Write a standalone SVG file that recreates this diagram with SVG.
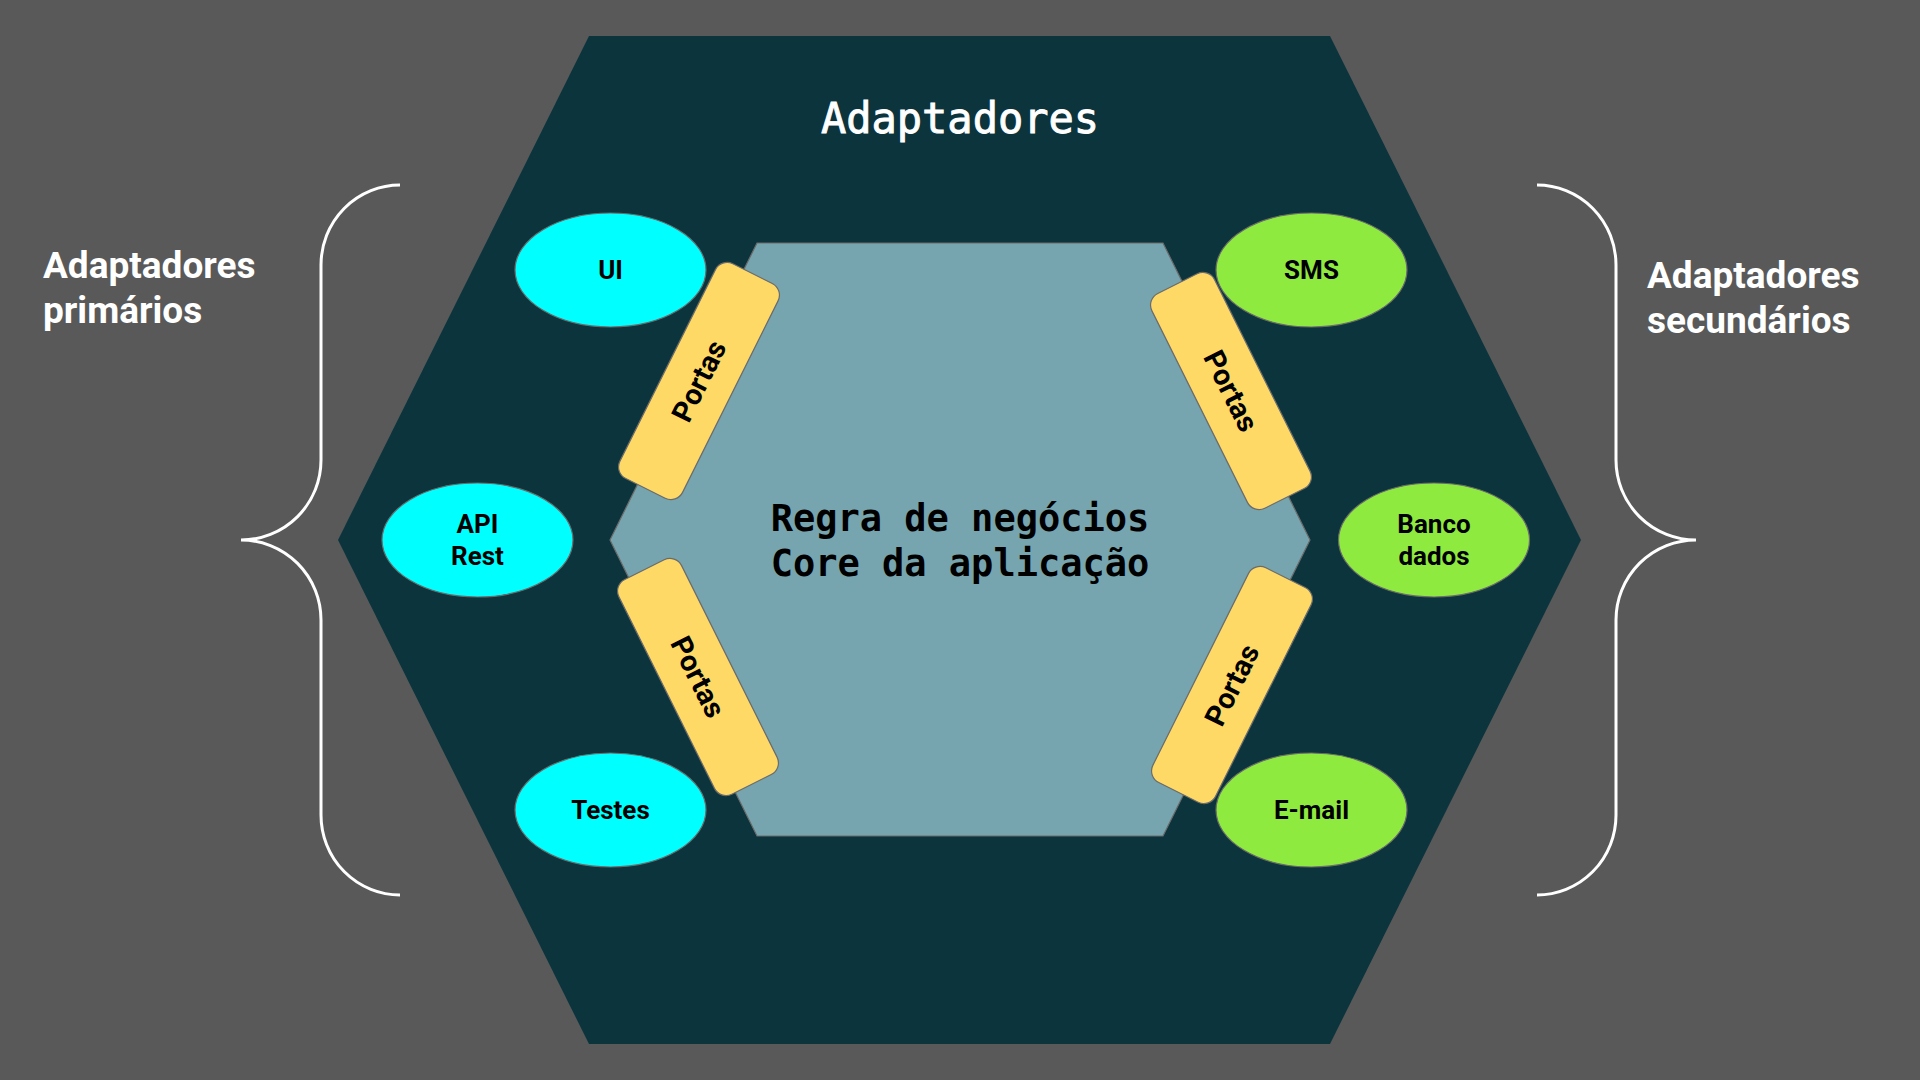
<svg xmlns="http://www.w3.org/2000/svg" width="1920" height="1080" viewBox="0 0 1920 1080">
<style>
.ell{stroke:#6b6b6b;stroke-width:1.2}
.cyan{fill:#00ffff}
.green{fill:#8fea3f}
.port{fill:#ffd966;stroke:#6b6b6b;stroke-width:1.2}
.lbl{font-family:Roboto,"Liberation Sans",sans-serif;font-weight:700;font-size:26px;fill:#000;text-anchor:middle}
.plbl{font-family:Roboto,"Liberation Sans",sans-serif;font-weight:700;font-size:29px;fill:#000;text-anchor:middle}
.side{font-family:Roboto,"Liberation Sans",sans-serif;font-weight:700;font-size:37px;fill:#fff}
.mono{font-family:"DejaVu Sans Mono","Liberation Mono",monospace;text-anchor:middle}
.brace{fill:none;stroke:#fff;stroke-width:3}
</style>
<rect width="1920" height="1080" fill="#595959"/>
<g id="adaptadores">
<polygon points="589,36 1330,36 1581,540 1330,1044 589,1044 338,540" fill="#0c343d"/>
<text class="mono" x="960" y="133" font-size="42" fill="#fff" stroke="#fff" stroke-width="0.9">Adaptadores</text>
</g>
<g id="core">
<polygon points="757,243 1163,243 1310,540 1163,836 757,836 610,540" fill="#76a5af" stroke="#6b6b6b" stroke-width="1.2"/>
<text class="mono" x="960" y="531" font-size="37" font-weight="700" fill="#000">Regra de negócios</text>
<text class="mono" x="960" y="576" font-size="37" font-weight="700" fill="#000">Core da aplicação</text>
</g>
<g id="portas-tl" transform="translate(699,381) rotate(26.5)">
<rect class="port" x="-35" y="-120" width="70" height="240" rx="13"/>
<text class="plbl" transform="rotate(-90)" x="0" y="10">Portas</text>
</g>
<g id="portas-tr" transform="translate(1231,391) rotate(-26.5)">
<rect class="port" x="-35" y="-120" width="70" height="240" rx="13"/>
<text class="plbl" transform="rotate(90)" x="0" y="10">Portas</text>
</g>
<g id="portas-bl" transform="translate(698,677) rotate(-26.5)">
<rect class="port" x="-35" y="-120" width="70" height="240" rx="13"/>
<text class="plbl" transform="rotate(90)" x="0" y="10">Portas</text>
</g>
<g id="portas-br" transform="translate(1232,685) rotate(26.5)">
<rect class="port" x="-35" y="-120" width="70" height="240" rx="13"/>
<text class="plbl" transform="rotate(-90)" x="0" y="10">Portas</text>
</g>
<g id="ui">
<ellipse class="ell cyan" cx="610.5" cy="270" rx="95.5" ry="57"/>
<text class="lbl" x="610.5" y="279">UI</text>
</g>
<g id="api-rest">
<ellipse class="ell cyan" cx="477.5" cy="540" rx="95.5" ry="57"/>
<text class="lbl" x="477.5" y="533">API</text>
<text class="lbl" x="477.5" y="565">Rest</text>
</g>
<g id="testes">
<ellipse class="ell cyan" cx="610.5" cy="810" rx="95.5" ry="57"/>
<text class="lbl" x="610.5" y="819">Testes</text>
</g>
<g id="sms">
<ellipse class="ell green" cx="1311.5" cy="270" rx="95.5" ry="57"/>
<text class="lbl" x="1311.5" y="279">SMS</text>
</g>
<g id="banco-dados">
<ellipse class="ell green" cx="1434" cy="540" rx="95.5" ry="57"/>
<text class="lbl" x="1434" y="533">Banco</text>
<text class="lbl" x="1434" y="565">dados</text>
</g>
<g id="email">
<ellipse class="ell green" cx="1311.5" cy="810" rx="95.5" ry="57"/>
<text class="lbl" x="1311.5" y="819">E-mail</text>
</g>
<g id="primarios">
<path class="brace" d="M400,185 A79,80 0 0 0 321,265 L321,460 A80,80 0 0 1 241,540 A80,80 0 0 1 321,620 L321,815 A79,80 0 0 0 400,895"/>
<text class="side" x="43" y="278">Adaptadores</text>
<text class="side" x="43" y="323">primários</text>
</g>
<g id="secundarios">
<path class="brace" d="M1537,185 A79,80 0 0 1 1616,265 L1616,460 A80,80 0 0 0 1696,540 A80,80 0 0 0 1616,620 L1616,815 A79,80 0 0 1 1537,895"/>
<text class="side" x="1647" y="288">Adaptadores</text>
<text class="side" x="1647" y="333">secundários</text>
</g>
<g id="connectors"></g>
</svg>
